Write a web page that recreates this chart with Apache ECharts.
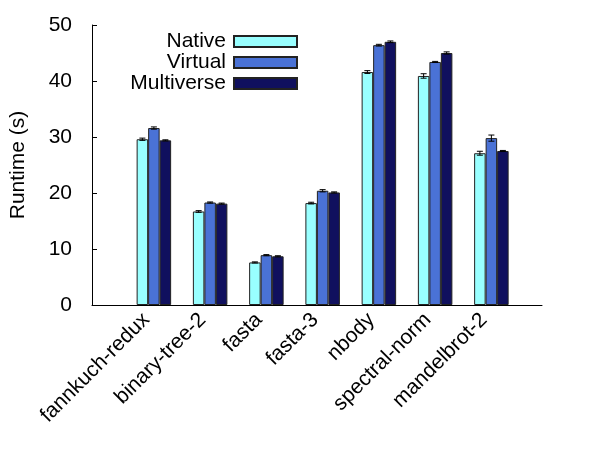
<!DOCTYPE html>
<html><head><meta charset="utf-8">
<script src="https://cdn.jsdelivr.net/npm/echarts@6/dist/echarts.min.js"></script>
<style>html,body{margin:0;padding:0;background:#fff}#c{width:600px;height:450px}</style>
</head><body><div id="c"></div>
<script>
const categories = ['fannkuch-redux','binary-tree-2','fasta','fasta-3','nbody','spectral-norm','mandelbrot-2'];
const seriesNames = ['Native','Virtual','Multiverse'];
const nativeVals = [29.6, 16.7, 7.6, 18.2, 41.6, 40.9, 27.1];
const virtualVals = [31.6, 18.3, 8.9, 20.4, 46.4, 43.4, 29.8];
const multiVals = [29.4, 18.1, 8.7, 20.1, 47.0, 45.0, 27.5];
const nativeErr = [0.2, 0.15, 0.1, 0.15, 0.25, 0.4, 0.35];
const virtualErr = [0.2, 0.1, 0.1, 0.2, 0.15, 0.1, 0.55];
const multiErr = [0.1, 0.1, 0.1, 0.1, 0.15, 0.2, 0.1];
const yTicks = [0, 10, 20, 30, 40, 50];

const colors = ['#99ffff', '#4a72d6', '#10105e'];
const BAR_W = 11.5;
const FONT = 'Liberation Sans';
const FS = 21;
const vals = [nativeVals, virtualVals, multiVals];
const errs = [nativeErr, virtualErr, multiErr];

const chart = echarts.init(document.getElementById('c'), null, {renderer: 'canvas'});

const barSeries = seriesNames.map((n, k) => ({
  name: n, type: 'bar', barWidth: BAR_W, barGap: '0%',
  itemStyle: {color: colors[k], borderColor: '#222', borderWidth: 1},
  data: vals[k].map((v, i) => [i, v]),
  z: 2
}));

const errData = [];
seriesNames.forEach((n, k) => vals[k].forEach((v, i) => errData.push([i, v, errs[k][i], k])));

const errSeries = {
  type: 'custom', silent: true, z: 5,
  data: errData,
  renderItem: function (params, api) {
    const i = api.value(0), v = api.value(1), e = api.value(2), k = api.value(3);
    const off = (k - 1) * BAR_W;
    const t = api.coord([i, v + e]);
    const b = api.coord([i, v - e]);
    const x = t[0] + off;
    const cap = 3;
    const st = {stroke: '#000', lineWidth: 1};
    return {type: 'group', children: [
      {type: 'line', shape: {x1: x, y1: t[1], x2: x, y2: b[1]}, style: st},
      {type: 'line', shape: {x1: x - cap, y1: t[1], x2: x + cap, y2: t[1]}, style: st},
      {type: 'line', shape: {x1: x - cap, y1: b[1], x2: x + cap, y2: b[1]}, style: st}
    ]};
  }
};

chart.setOption({
  animation: false,
  backgroundColor: '#fff',
  textStyle: {fontFamily: FONT},
  grid: {left: 90, right: 58, top: 25, bottom: 145, containLabel: false},
  legend: {
    orient: 'vertical', right: 297, top: 26, align: 'right',
    icon: 'rect',
    itemWidth: 63, itemHeight: 11, itemGap: 0,
    textStyle: {fontSize: FS, fontFamily: FONT, color: '#000', padding: [0, 3, 0, 0]},
    data: seriesNames
  },
  xAxis: {
    type: 'value', min: -1.1, max: 6.9,
    axisLine: {show: true, onZero: false, lineStyle: {color: '#000', width: 1}},
    axisTick: {show: false},
    splitLine: {show: false},
    axisLabel: {
      customValues: categories.map((c, i) => i),
      formatter: v => categories[Math.round(v)] || '',
      rotate: 45, fontSize: FS, color: '#000', fontFamily: FONT, margin: 19,
      verticalAlign: 'bottom'
    }
  },
  yAxis: {
    type: 'value', min: 0, max: 50, interval: 10,
    name: 'Runtime (s)', nameLocation: 'middle', nameGap: 63,
    nameTextStyle: {fontSize: FS, color: '#000', fontFamily: FONT},
    axisLine: {show: true, onZero: false, lineStyle: {color: '#000', width: 1}},
    axisTick: {show: true, inside: true, length: 5, lineStyle: {color: '#000'}},
    splitLine: {show: false},
    axisLabel: {fontSize: FS, color: '#000', fontFamily: FONT, margin: 20,
      customValues: yTicks}
  },
  series: [...barSeries, errSeries]
});
</script></body></html>
